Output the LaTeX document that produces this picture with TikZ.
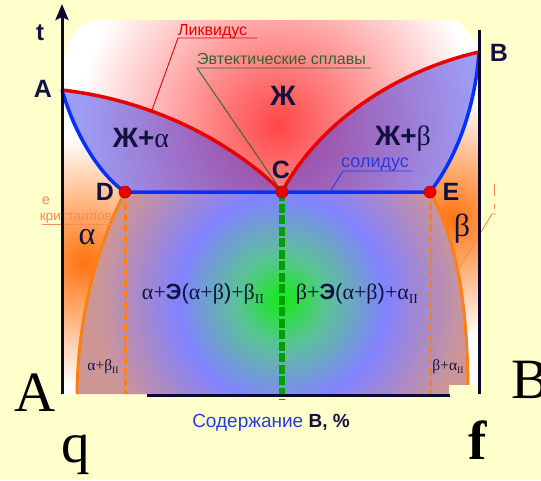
\documentclass[tikz,border=0pt]{standalone}
\usepackage{fontspec}
\setmainfont{Liberation Sans}
\newfontfamily\serif{Liberation Serif}
\usetikzlibrary{arrows.meta}
\definecolor{bgy}{RGB}{255,255,204}
\definecolor{navy}{RGB}{8,8,48}
\definecolor{txtnavy}{RGB}{18,18,64}
\definecolor{lred}{RGB}{232,0,0}
\definecolor{sblue}{RGB}{0,50,255}
\definecolor{orng}{RGB}{255,128,16}
\definecolor{lorng}{RGB}{245,140,80}
\definecolor{gdash}{RGB}{0,160,0}
\definecolor{eutg}{RGB}{50,100,50}
\definecolor{solb}{RGB}{40,60,220}
\definecolor{ovblue}{RGB}{60,60,235}
\definecolor{redc}{RGB}{255,70,70}
\definecolor{orc}{RGB}{255,115,15}
\definecolor{cgreen}{RGB}{20,235,20}
\definecolor{cteal}{RGB}{90,195,150}
\definecolor{cblue}{RGB}{130,130,255}
\definecolor{cmauve}{RGB}{180,140,185}
\definecolor{ctan}{RGB}{205,150,150}
\pgfdeclareradialshading{midsh}{\pgfpoint{0bp}{0bp}}{color(0bp)=(cgreen); color(6bp)=(cteal); color(14bp)=(cblue); color(21bp)=(cmauve); color(25bp)=(ctan); color(50bp)=(ctan)}
\newcommand\gk[1]{{\serif #1}}
\newcommand\subII{\raisebox{-0.22em}{\serif\fontsize{0.62em}{0.62em}\selectfont II}}
\tikzset{
  lbl/.style={inner sep=0pt, text=txtnavy, font=\bfseries\fontsize{25}{25}\selectfont, anchor=base},
  phase/.style={inner sep=0pt, text=txtnavy, anchor=base},
  big/.style={inner sep=0pt, text=black, anchor=base west, font=\serif\fontsize{57}{57}\selectfont},
  liq/.style={lred, line width=3.5pt},
  sol/.style={sblue, line width=3.5pt},
  svs/.style={orng, line width=3pt},
  odash/.style={orng, line width=3pt, dash pattern=on 7pt off 4pt},
  gdashed/.style={gdash, line width=6pt, dash pattern=on 9pt off 2.5pt},
  axis/.style={navy, line width=3pt},
  dot/.style={circle, fill=lred, draw=red!70!black, line width=0.6pt, inner sep=0pt, minimum size=12pt},
  leader/.style={line width=0.9pt},
}
\begin{document}
\begin{tikzpicture}[x=1pt,y=-1pt]
\useasboundingbox (0,0) rectangle (541,480);
\fill[bgy] (0,0) rectangle (541,480);
% key points
\coordinate (pA) at (62,90);
\coordinate (pB) at (479,52);
\coordinate (pC) at (282,192);
\coordinate (pD) at (125,192);
\coordinate (pE) at (430,192);
\coordinate (sL) at (77,394);
\coordinate (sR) at (468,394);
\coordinate (bL) at (62,394);
\coordinate (bR) at (479,394);
% panel
\begin{scope}
\clip (bL) -- (62,80) .. controls (62,45) and (75,22) .. (98,20) -- (458,20) -- (479,45) -- (bR) -- cycle;
\fill[white] (0,0) rectangle (541,480);
\shade[inner color=redc, outer color=white] (278,125) circle[radius=200pt];
% lower middle region
\begin{scope}
\clip (pD) -- (pE) .. controls (455,235) and (468,300) .. (sR) -- (sL) .. controls (78,310) and (100,240) .. (pD) -- cycle;
\fill[ctan] (0,0) rectangle (541,480);
\shade[shading=midsh] (282,300) circle[radius=185pt];
\end{scope}
% alpha region
\begin{scope}
\clip (pA) .. controls (75,135) and (100,175) .. (pD) .. controls (100,240) and (78,310) .. (sL) -- (bL) -- cycle;
\fill[white] (0,0) rectangle (541,480);
\shade[inner color=orc, outer color=white] (84,262) circle[radius=125pt];
\end{scope}
% beta region
\begin{scope}
\clip (pB) .. controls (475,110) and (455,160) .. (pE) .. controls (455,235) and (468,300) .. (sR) -- (bR) -- cycle;
\fill[white] (0,0) rectangle (541,480);
\shade[inner color=orc, outer color=white] (452,218) circle[radius=120pt];
\end{scope}
% two-phase liquid regions
\fill[ovblue, fill opacity=0.5] (pA) .. controls (150,100) and (230,140) .. (pC) -- (pD) .. controls (100,175) and (75,135) .. (pA) -- cycle;
\fill[ovblue, fill opacity=0.5] (pC) .. controls (320,120) and (400,70) .. (pB) .. controls (475,110) and (455,160) .. (pE) -- cycle;
\end{scope}
% solvus and dashed lines
\draw[svs] (pD) .. controls (100,240) and (78,310) .. (sL);
\draw[svs] (pE) .. controls (455,235) and (468,300) .. (sR);
\fill[bgy] (449,385) rectangle (478,396);
\draw[odash] (pD) -- (pD |- bL);
\draw[odash] (pE) -- (pE |- bL);
\coordinate (gEnd) at (282,400);
\draw[gdashed] (pC) -- (gEnd);
% liquidus / solidus
\draw[sol] (pA) .. controls (75,135) and (100,175) .. (pD) -- (pE) .. controls (455,160) and (475,110) .. (pB);
\draw[liq] (pA) .. controls (150,100) and (230,140) .. (pC) .. controls (320,120) and (400,70) .. (pB);
% leaders and annotations
\node[inner sep=0pt, anchor=base west, text=lred, font=\fontsize{16}{16}\selectfont] (tLiq) at (178,35) {Ликвидус};
\coordinate (uLiq1) at (178,38); \coordinate (uLiq2) at (257,38); \coordinate (eLiq) at (152,110);
\draw[lred, leader] (uLiq2) -- (uLiq1) -- (eLiq);
\node[inner sep=0pt, anchor=base west, text=eutg, font=\fontsize{16}{16}\selectfont] (tEut) at (197,64) {Эвтектические сплавы};
\coordinate (uEut1) at (197,68); \coordinate (uEut2) at (371,68);
\draw[eutg, leader] (uEut2) -- (uEut1) -- (pC);
\node[inner sep=0pt, anchor=base west, text=solb, font=\fontsize{18}{18}\selectfont] (tSol) at (341,167) {солидус};
\coordinate (uSol1) at (343,171); \coordinate (uSol2) at (412,171); \coordinate (eSol) at (330,192);
\draw[solb, leader] (uSol2) -- (uSol1) -- (eSol);
\node[inner sep=0pt, anchor=base west, text=lorng, font=\fontsize{14}{14}\selectfont] (tE1) at (42,204) {е};
\node[inner sep=0pt, anchor=base east, text=lorng, font=\fontsize{13.5}{13.5}\selectfont] (tKr) at (112,220) {кристаллов};
\coordinate (uKr1) at (42,224); \coordinate (uKr2) at (113,224);
\draw[lorng, leader] (uKr1) -- (uKr2);
\coordinate (rf1) at (494,184); \coordinate (rf2) at (494,196);
\coordinate (rf3) at (494,204); \coordinate (rf4) at (494,209);
\draw[lorng, line width=0.9pt] (rf1) -- (rf2) (rf3) -- (rf4);
\coordinate (lr1) at (496,214); \coordinate (lr2) at (492,214); \coordinate (lr3) at (458,270);
\draw[lorng, leader] (lr1) -- (lr2) -- (lr3);
% axes
\coordinate (axTop) at (62,4);
\coordinate (rTop) at (479,30);
\coordinate (bx1) at (147,395);
\coordinate (bx2) at (450,395);
\draw[axis, -{Stealth[length=16pt,width=13pt,inset=3pt]}] (bL) -- (axTop);
\draw[axis] (bR) -- (rTop);
\draw[axis] (bx1) -- (bx2);
% dots
\node[dot] (dD) at (pD) {};
\node[dot] (dC) at (pC) {};
\node[dot] (dE) at (pE) {};
% point labels
\node[lbl, font=\bfseries\fontsize{24}{24}\selectfont] (tT) at (40,40) {t};
\node[lbl] (tA) at (43,97) {A};
\node[lbl] (tB) at (499,61) {B};
\node[lbl] (tC) at (281,178) {C};
\node[lbl] (tD) at (105,200) {D};
\node[lbl] (tE) at (451,200) {E};
% phase labels
\node[phase, font=\bfseries\fontsize{28}{28}\selectfont] (tL) at (283,105) {Ж};
\node[phase, font=\bfseries\fontsize{28}{28}\selectfont] (tLa) at (141,147) {Ж+\gk{\mdseries α}};
\node[phase, font=\bfseries\fontsize{28}{28}\selectfont] (tLb) at (403,145) {Ж+\gk{\mdseries β}};
\node[phase, font=\serif\fontsize{32}{32}\selectfont] (tAl) at (87,244) {α};
\node[phase, font=\serif\fontsize{32}{32}\selectfont] (tBe) at (462,236) {β};
\node[phase, font=\fontsize{22}{22}\selectfont] (tM1) at (203,299) {\gk{α+}\textbf{Э}(\gk{α+β})\gk{+β}\subII};
\node[phase, font=\fontsize{22}{22}\selectfont] (tM2) at (357,299) {\gk{β+}\textbf{Э}(\gk{α+β})\gk{+α}\subII};
\node[phase, font=\serif\fontsize{15.5}{15.5}\selectfont] (tS1) at (103,370) {α+β\subII};
\node[phase, font=\serif\fontsize{15.5}{15.5}\selectfont] (tS2) at (448,370) {β+α\subII};
% axis caption
\node[inner sep=0pt, anchor=base, text=solb, font=\fontsize{19}{19}\selectfont] (tAx) at (271,427) {Содержание \textcolor{txtnavy}{\textbf{В, \%}}};
% big letters
\node[big] (gA) at (14,411) {A};
\node[big] (gB) at (511,398) {B};
\node[big] (gq) at (61,462) {q};
\node[big, font=\serif\bfseries\fontsize{55}{55}\selectfont] (gf) at (468,459) {f};
\end{tikzpicture}
\end{document}
